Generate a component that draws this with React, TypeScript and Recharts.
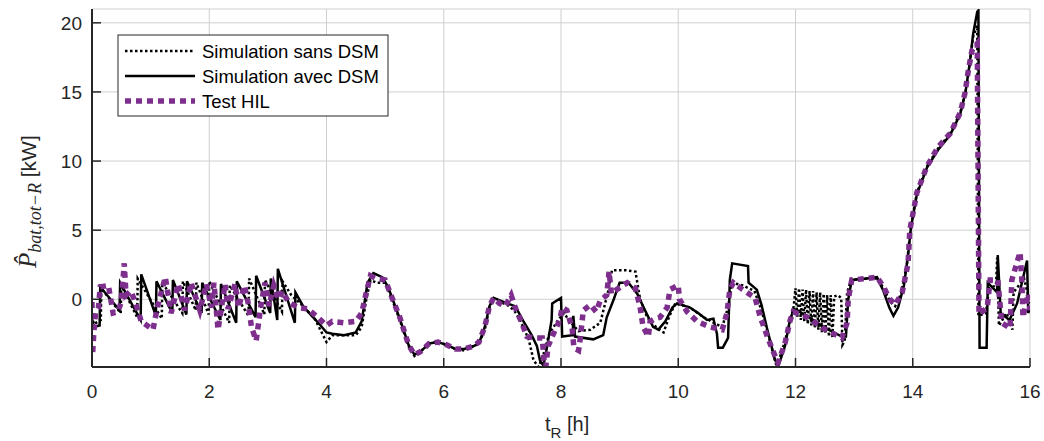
import React from "react";
import { CartesianGrid, Line, LineChart, XAxis, YAxis } from "recharts";

// Battery power, reduced time scale [h] vs kW. Three runs.
const xTicks = [0, 2, 4, 6, 8, 10, 12, 14, 16];
const yTicks = [0, 5, 10, 15, 20];

const seriesNames = ["Simulation sans DSM", "Simulation avec DSM", "Test HIL"];

// Simulation sans DSM (dotted black)
const tSans = [
  0.0, 0.03, 0.15, 0.16, 0.49, 0.5, 0.77, 0.78, 1.19, 1.2, 1.54, 1.55, 1.77, 1.78, 1.99, 2.0,
  2.34, 2.35, 2.67, 2.68, 2.94, 2.95, 3.24, 3.25, 3.4, 3.6, 3.8, 4.0, 4.1, 4.5, 4.6, 4.68,
  4.75, 4.85, 5.0, 5.1, 5.25, 5.4, 5.5, 5.6, 5.75, 5.9, 6.05, 6.2, 6.35, 6.5, 6.6, 6.7,
  6.78, 6.85, 7.08, 7.2, 7.3, 7.45, 7.53, 7.62, 7.7, 7.8, 7.95, 8.05, 8.15, 8.3, 8.5, 8.67,
  8.8, 8.87, 9.1, 9.27, 9.35, 9.47, 9.64, 9.75, 9.85, 9.95, 10.2, 10.4, 10.6, 10.75, 10.85, 10.92,
  11.1, 11.3, 11.42, 11.55, 11.68, 11.8, 11.9, 11.97, 12.0, 12.03, 12.06, 12.09, 12.12, 12.15, 12.18, 12.21,
  12.24, 12.27, 12.3, 12.33, 12.36, 12.39, 12.42, 12.45, 12.48, 12.51, 12.54, 12.57, 12.6, 12.63, 12.66, 12.72,
  12.78, 12.8, 12.84, 12.88, 12.95, 13.2, 13.4, 13.5, 13.62, 13.7, 13.8, 13.9, 13.96, 14.07, 14.24, 14.43,
  14.64, 14.81, 14.9, 14.97, 15.03, 15.1, 15.12, 15.25, 15.3, 15.42, 15.44, 15.47, 15.6, 15.7, 15.72, 15.9,
  16.0,
];
const pSans = [
  -1.2, -1.8, -1.5, 0.8, -1.0, 1.0, -1.3, 1.5, -1.4, 1.2, -1.0, 1.3, -0.8, 1.2, -1.1, 1.3,
  -1.7, 1.0, -1.2, 1.5, -1.1, 1.4, -0.9, 1.3, 0.3, -0.5, -1.4, -3.1, -2.6, -2.6, -2.0, 0.0,
  1.4, 1.2, 1.2, 0.2, -1.5, -3.4, -4.1, -3.8, -3.2, -3.1, -3.3, -3.6, -3.7, -3.4, -3.2, -2.2,
  -0.6, 0.0, -0.4, -0.8, -1.5, -2.9, -4.4, -4.9, -4.0, -2.5, -1.5, -1.0, -1.6, -2.3, -2.2, -1.7,
  0.5, 2.1, 2.1, 2.0, 0.0, -1.3, -2.1, -2.4, -1.2, -0.3, -0.6, -1.2, -1.7, -2.0, -0.6, 1.2,
  1.0, 0.6, -0.8, -2.8, -4.9, -3.3, -1.8, -0.5, 0.8, -1.3, 0.8, -1.5, 0.7, -1.6, 0.7, -1.8,
  0.6, -1.9, 0.6, -2.1, 0.5, -2.2, 0.5, -2.4, 0.4, -2.5, 0.3, -2.7, 0.3, -2.8, 0.2, 0.3,
  0.1, -3.3, -3.0, 0.5, 1.4, 1.5, 1.5, 0.8, -0.2, -0.5, 0.4, 2.5, 5.0, 7.7, 9.6, 10.9,
  12.0, 13.5, 15.0, 17.0, 19.0, 19.8, -1.2, -1.0, 0.8, 1.0, 3.0, -1.9, -1.0, -2.2, 0.5, 1.5,
  -0.3,
];

// Simulation avec DSM (solid black)
const tAvec = [
  0.0, 0.03, 0.13, 0.14, 0.47, 0.48, 0.83, 0.84, 1.09, 1.1, 1.37, 1.38, 1.61, 1.62, 1.87, 1.88,
  2.19, 2.2, 2.46, 2.47, 2.79, 2.8, 3.04, 3.05, 3.16, 3.17, 3.46, 3.47, 3.6, 3.75, 3.9, 4.0,
  4.1, 4.3, 4.5, 4.6, 4.7, 4.8, 4.95, 5.05, 5.25, 5.4, 5.5, 5.6, 5.75, 5.9, 6.05, 6.2,
  6.35, 6.5, 6.6, 6.7, 6.78, 6.85, 7.08, 7.22, 7.36, 7.5, 7.59, 7.64, 7.7, 7.76, 7.84, 7.85,
  8.0, 8.02, 8.2, 8.21, 8.24, 8.55, 8.72, 8.78, 8.9, 9.0, 9.15, 9.3, 9.4, 9.57, 9.66, 9.78,
  9.9, 9.98, 10.2, 10.34, 10.49, 10.6, 10.66, 10.68, 10.76, 10.85, 10.88, 10.92, 11.19, 11.2, 11.34, 11.42,
  11.52, 11.65, 11.71, 11.82, 11.9, 11.97, 12.2, 12.47, 12.79, 12.86, 12.9, 12.96, 13.22, 13.39, 13.5, 13.6,
  13.67, 13.75, 13.85, 13.92, 13.97, 14.07, 14.24, 14.43, 14.64, 14.81, 14.9, 14.97, 15.03, 15.1, 15.12, 15.14,
  15.26, 15.28, 15.44, 15.45, 15.5, 15.65, 15.78, 15.95, 15.97, 16.0,
];
const pAvec = [
  -1.4, -2.0, -1.9, 0.9, -0.8, 1.2, -1.5, 1.8, -1.2, 1.3, -1.0, 1.4, -1.1, 1.3, -1.0, 1.2,
  -1.5, 1.1, -1.7, 1.3, -1.3, 1.7, -1.0, 1.5, -1.5, 2.2, -1.7, 0.5, -0.5, -1.2, -1.9, -2.4,
  -2.5, -2.6, -2.4, -1.6, 1.2, 1.9, 1.6, 0.9, -1.4, -3.3, -4.0, -3.8, -3.2, -3.1, -3.3, -3.6,
  -3.6, -3.4, -3.2, -2.0, -0.5, 0.1, -0.3, -0.5, -1.6, -2.6, -3.4, -4.4, -4.8, -3.5, -1.5, -0.3,
  0.1, -2.7, -2.6, -1.2, -2.7, -2.9, -2.6, -1.3, 0.0, 1.2, 1.2, 0.4, -0.5, -2.0, -2.2, -1.6,
  -0.6, -0.3, -0.6, -1.0, -1.5, -1.4, -2.5, -3.5, -3.5, -2.8, 1.4, 2.6, 2.4, 1.2, 0.7, -0.4,
  -2.2, -4.4, -4.8, -3.4, -1.6, -0.7, -1.2, -2.0, -2.7, -2.7, 0.0, 1.4, 1.5, 1.6, 0.6, -0.6,
  -1.2, -0.6, 1.0, 3.2, 5.2, 7.6, 9.5, 10.8, 11.9, 13.4, 15.0, 17.0, 19.2, 20.8, 20.9, -3.5,
  -3.5, 1.2, 0.5, 3.2, -1.0, -1.5, -0.3, 2.8, -1.0, -0.6,
];

// Test HIL (purple, thick dots)
const tHil = [
  0.0, 0.01, 0.03, 0.06, 0.11, 0.14, 0.28, 0.36, 0.44, 0.5, 0.55, 0.58, 0.66, 0.72, 0.84, 1.04,
  1.12, 1.25, 1.35, 1.47, 1.58, 1.69, 1.84, 1.95, 2.04, 2.08, 2.15, 2.27, 2.32, 2.44, 2.5, 2.6,
  2.66, 2.72, 2.8, 2.88, 2.95, 3.02, 3.1, 3.18, 3.25, 3.35, 3.51, 3.68, 3.85, 4.0, 4.1, 4.3,
  4.5, 4.6, 4.68, 4.75, 4.85, 5.0, 5.1, 5.25, 5.4, 5.5, 5.6, 5.75, 5.9, 6.05, 6.2, 6.35,
  6.5, 6.6, 6.7, 6.78, 6.85, 6.95, 7.05, 7.15, 7.22, 7.32, 7.42, 7.55, 7.68, 7.71, 7.74, 7.78,
  7.85, 7.98, 8.02, 8.1, 8.19, 8.22, 8.3, 8.33, 8.38, 8.5, 8.6, 8.67, 8.78, 8.82, 8.86, 8.95,
  9.13, 9.27, 9.35, 9.4, 9.49, 9.52, 9.6, 9.69, 9.81, 9.86, 9.95, 10.0, 10.02, 10.15, 10.32, 10.54,
  10.75, 10.83, 10.88, 10.94, 11.1, 11.31, 11.4, 11.52, 11.65, 11.7, 11.82, 11.91, 11.96, 12.2, 12.47, 12.79,
  12.88, 12.9, 12.96, 13.22, 13.39, 13.5, 13.61, 13.7, 13.82, 13.92, 13.95, 14.07, 14.24, 14.43, 14.64, 14.81,
  14.89, 14.95, 15.01, 15.1, 15.13, 15.27, 15.32, 15.45, 15.52, 15.66, 15.69, 15.83, 15.86, 15.88, 15.97, 16.0,
];
const pHil = [
  -0.2, -4.0, -2.5, -1.0, -0.6, 0.9, 1.0, -1.0, -0.9, -0.2, 2.6, 0.3, 0.6, 0.0, -1.6, -2.2,
  -0.5, 1.6, -1.0, 1.1, -0.8, 1.2, -0.8, 1.1, -0.6, 1.2, -2.2, 1.1, -0.7, 1.1, -0.6, 1.0,
  -0.2, -2.0, -3.0, -0.5, 1.2, -0.5, 1.0, 0.0, 0.6, -0.2, -0.6, -0.7, -1.3, -1.9, -1.6, -1.7,
  -1.6, -1.0, 0.5, 1.7, 1.5, 1.4, 0.3, -1.3, -3.3, -4.0, -3.8, -3.2, -3.1, -3.3, -3.6, -3.6,
  -3.4, -3.1, -2.0, -0.5, 0.1, -0.3, -0.5, 0.3, -0.6, -1.6, -2.7, -2.8, -2.8, -4.4, -4.9, -3.4,
  -2.7, -1.5, -0.6, -0.8, -2.1, -3.5, -3.7, -2.8, -0.8, -0.4, -0.9, -0.1, 0.3, 2.0, 0.4, 0.7,
  1.2, 0.8, -0.6, -2.0, -2.7, -1.6, -1.4, -1.3, -0.6, 0.7, 0.9, 1.0, 0.0, -0.9, -1.6, -2.0,
  -2.2, -1.0, 0.7, 1.2, 0.7, 0.1, -1.3, -2.7, -4.1, -4.6, -3.2, -1.5, -0.9, -1.3, -2.1, -2.8,
  -1.7, 0.0, 1.4, 1.5, 1.6, 0.9, 0.0, -0.4, 0.5, 2.6, 5.0, 7.7, 9.6, 11.0, 12.0, 13.5,
  14.9, 16.6, 18.0, 18.5, -1.1, -0.6, 1.4, 1.4, -1.7, -2.1, 1.4, 3.4, 1.5, -1.3, 0.4, -0.8,
];

const toRows = (ts: number[], ps: number[]) => ts.map((t, i) => ({ t, p: ps[i] }));
const sansData = toRows(tSans, pSans);
const avecData = toRows(tAvec, pAvec);
const hilData = toRows(tHil, pHil);

const INK = "#262626";
const PURPLE = "#7E2F8E";
const FONT = "'Liberation Sans', Arial, sans-serif";
const MATH = "'Liberation Serif', 'DejaVu Serif', serif";

function XTick(props: { x?: number; y?: number; payload?: { value: number } }) {
  const { x = 0, y = 0, payload } = props;
  return (
    <g>
      <line x1={x} x2={x} y1={y} y2={y - 9} stroke={INK} strokeWidth={1.5} />
      <text x={x} y={y + 31} textAnchor="middle" fill={INK} fontSize={19} fontFamily={FONT}>
        {payload?.value}
      </text>
    </g>
  );
}

function YTick(props: { x?: number; y?: number; payload?: { value: number } }) {
  const { x = 0, y = 0, payload } = props;
  return (
    <g>
      <line x1={x} x2={x + 9} y1={y} y2={y} stroke={INK} strokeWidth={1.5} />
      <text x={x - 10} y={y + 7} textAnchor="end" fill={INK} fontSize={19} fontFamily={FONT}>
        {payload?.value}
      </text>
    </g>
  );
}

export default function App() {
  return (
    <div style={{ position: "absolute", left: 0, top: 0, width: 1044, height: 441, background: "#fff" }}>
      <LineChart width={1044} height={441} margin={{ top: 9, right: 14, bottom: 34, left: 0 }}>
        <CartesianGrid stroke="#cfcfcf" strokeWidth={1} />
        <XAxis
          dataKey="t"
          type="number"
          domain={[0, 16]}
          ticks={xTicks}
          allowDataOverflow
          height={40}
          tickSize={0}
          tickMargin={0}
          tickLine={false}
          axisLine={{ stroke: INK, strokeWidth: 2 }}
          tick={XTick as any}
        />
        <YAxis
          type="number"
          domain={[-4.9, 21]}
          ticks={yTicks}
          allowDataOverflow
          width={92}
          tickSize={0}
          tickMargin={0}
          tickLine={false}
          axisLine={{ stroke: INK, strokeWidth: 2 }}
          tick={YTick as any}
        />
        <Line
          data={sansData}
          dataKey="p"
          name={seriesNames[0]}
          stroke="#000"
          strokeWidth={2.5}
          strokeDasharray="2.5 2.5"
          dot={false}
          isAnimationActive={false}
        />
        <Line
          data={avecData}
          dataKey="p"
          name={seriesNames[1]}
          stroke="#000"
          strokeWidth={2.5}
          dot={false}
          isAnimationActive={false}
        />
        <Line
          data={hilData}
          dataKey="p"
          name={seriesNames[2]}
          stroke={PURPLE}
          strokeWidth={5.5}
          strokeDasharray="6 5"
          dot={false}
          isAnimationActive={false}
        />
      </LineChart>

      {/* legend + axis titles drawn on top */}
      <svg width={1044} height={441} style={{ position: "absolute", left: 0, top: 0, pointerEvents: "none" }}>
        <rect x={118} y={35} width={270} height={81} fill="#fff" stroke={INK} strokeWidth={1} />
        <line x1={125} x2={195} y1={51} y2={51} stroke="#000" strokeWidth={2.5} strokeDasharray="2.5 2.5" />
        <line x1={125} x2={195} y1={76} y2={76} stroke="#000" strokeWidth={2.5} />
        <line x1={125} x2={195} y1={101} y2={101} stroke={PURPLE} strokeWidth={5.5} strokeDasharray="6 5" />
        {seriesNames.map((n, i) => (
          <text key={n} x={202} y={58 + i * 25} fill="#000" fontSize={18.5} fontFamily={FONT}>
            {n}
          </text>
        ))}

        <text x={545} y={431} fill={INK} fontSize={20} fontFamily={FONT}>
          t<tspan fontSize={15} dy={7}>R</tspan>
          <tspan dy={-7}> [h]</tspan>
        </text>

        <text x={0} y={0} transform="translate(36,268) rotate(-90)" fill={INK} fontSize={21} fontFamily={FONT}>
          <tspan fontFamily={MATH} fontStyle="italic" fontSize={25}>
            P&#770;
          </tspan>
          <tspan fontFamily={MATH} fontStyle="italic" fontSize={18} dy={5}>
            bat,tot−R
          </tspan>
          <tspan dy={-5}> [kW]</tspan>
        </text>
      </svg>
    </div>
  );
}
